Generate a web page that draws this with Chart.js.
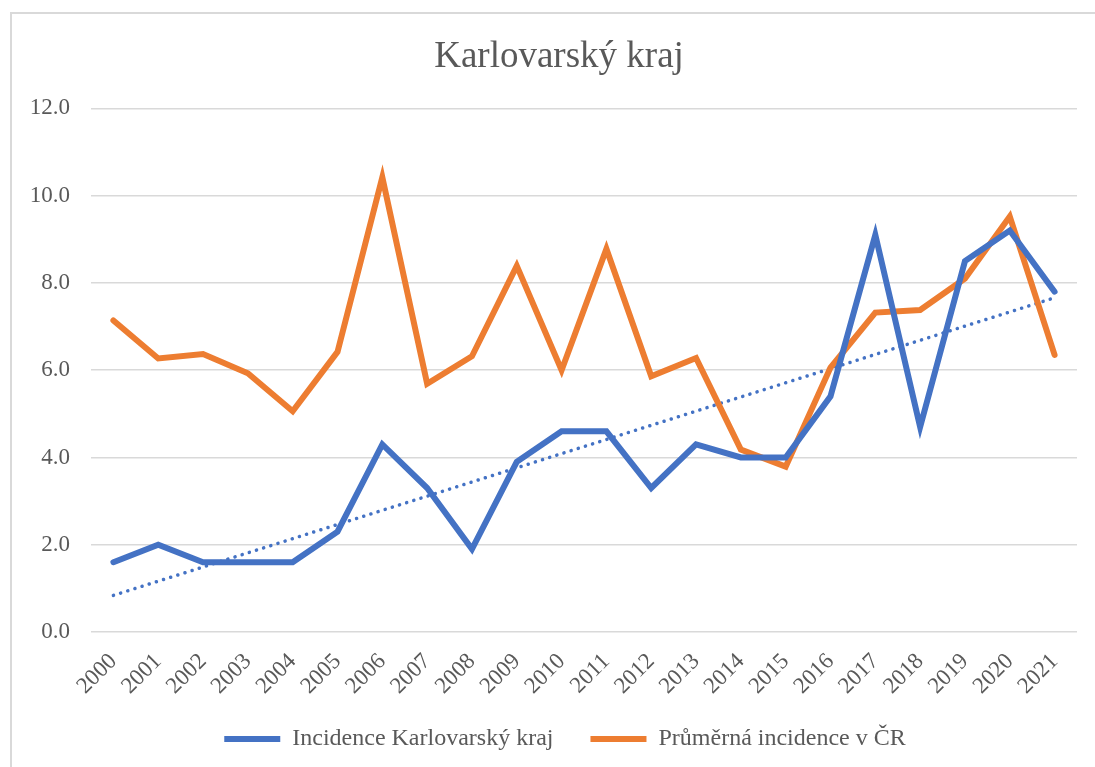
<!DOCTYPE html>
<html>
<head>
<meta charset="utf-8">
<script src="https://cdn.jsdelivr.net/npm/chart.js@4/dist/chart.umd.min.js"></script>
<style>
  html, body { margin: 0; padding: 0; background: #fff; }
  #wrap { width: 1095px; height: 767px; }
</style>
</head>
<body>
<div id="wrap"><canvas id="chartKraj" width="1095" height="767"></canvas></div>
<script>
const roky = ['2000', '2001', '2002', '2003', '2004', '2005', '2006', '2007', '2008', '2009', '2010',
    '2011', '2012', '2013', '2014', '2015', '2016', '2017', '2018', '2019', '2020', '2021'];
const incidenceKraj = [1.6, 2.0, 1.6, 1.6, 1.6, 2.3, 4.3, 3.3, 1.9, 3.9, 4.6,
    4.6, 3.3, 4.3, 4.0, 4.0, 5.4, 9.1, 4.7, 8.5, 9.2, 7.8];
const incidenceCR = [7.14, 6.27, 6.37, 5.93, 5.06, 6.42, 10.42, 5.69, 6.32, 8.39, 6.0,
    8.78, 5.86, 6.28, 4.18, 3.79, 6.06, 7.32, 7.38, 8.1, 9.52, 6.35];
// lineární trend (začátek 2000, konec 2021)
const trendZacatek = 0.84;
const trendKonec = 7.66;
const yTicks = [0, 2, 4, 6, 8, 10, 12];

const trend = roky.map((r, i) => i === 0 ? trendZacatek : (i === roky.length - 1 ? trendKonec : null));

const seda = '#595959';
const mrizka = '#d9d9d9';
const pismo = '"Liberation Serif", "Times New Roman", serif';

const ramecek = {
    id: 'ramecek',
    beforeDraw(chart) {
        const ctx = chart.ctx;
        ctx.save();
        ctx.fillStyle = '#fff';
        ctx.fillRect(0, 0, chart.width, chart.height);
        ctx.strokeStyle = mrizka;
        ctx.lineWidth = 2;
        ctx.beginPath();
        ctx.moveTo(11, chart.height);
        ctx.lineTo(11, 13);
        ctx.lineTo(chart.width, 13);
        ctx.stroke();
        ctx.restore();
    }
};

// legenda ma velke rozestupy mezi polozkami, po rozvrzeni ji trochu posuneme
const posunBloku = {
    id: 'posunBloku',
    afterLayout(chart) {
        const lg = chart.legend;
        lg.top -= 8;
        lg.bottom -= 8;
        lg.left += 12;
        lg.right += 12;
        const tb = chart.titleBlock;
        tb.left += 6;
        tb.right += 6;
    }
};

const canvas = document.getElementById('chartKraj');
const context = canvas.getContext('2d');

const chartKraj = new Chart(context, {
    type: 'line',
    data: {
        labels: roky,
        datasets: [
            {
                label: 'Incidence Karlovarský kraj',
                data: incidenceKraj,
                borderColor: '#4472C4',
                backgroundColor: '#4472C4',
                borderWidth: 6,
                borderCapStyle: 'round',
                pointRadius: 0,
                tension: 0
            },
            {
                label: 'Průměrná incidence v ČR',
                data: incidenceCR,
                borderColor: '#ED7D31',
                backgroundColor: '#ED7D31',
                borderWidth: 6,
                borderCapStyle: 'round',
                pointRadius: 0,
                tension: 0
            },
            {
                label: 'trend',
                data: trend,
                borderColor: '#4472C4',
                borderWidth: 3.5,
                borderDash: [0.1, 7.4],
                borderCapStyle: 'round',
                pointRadius: 0,
                spanGaps: true
            }
        ]
    },
    options: {
        responsive: false,
        animation: false,
        layout: {
            padding: { left: 29, right: 18, top: 0, bottom: 0 }
        },
        plugins: {
            tooltip: { enabled: false },
            title: {
                display: true,
                text: 'Karlovarský kraj',
                color: seda,
                font: { family: pismo, size: 37, weight: 'normal', lineHeight: 1.2 },
                padding: { top: 35, bottom: 29 }
            },
            legend: {
                position: 'bottom',
                maxHeight: 69,
                labels: {
                    color: seda,
                    font: { family: pismo, size: 24, lineHeight: 1 },
                    usePointStyle: true,
                    pointStyle: 'line',
                    pointStyleWidth: 56,
                    padding: 37,
                    filter: item => item.text !== 'trend'
                }
            }
        },
        scales: {
            x: {
                offset: true,
                grid: { display: false },
                border: { display: false },
                ticks: {
                    color: seda,
                    font: { family: pismo, size: 23 },
                    minRotation: 45,
                    maxRotation: 45,
                    autoSkip: false,
                    padding: 8
                },
                afterFit: scale => { scale.height = 66; }
            },
            y: {
                min: 0,
                max: 12,
                afterBuildTicks: scale => { scale.ticks = yTicks.map(v => ({ value: v })); },
                grid: { color: mrizka, lineWidth: 1.5, drawTicks: false },
                border: { display: false },
                ticks: {
                    color: seda,
                    font: { family: pismo, size: 23 },
                    padding: 21,
                    callback: v => Number(v).toFixed(1)
                },
                afterFit: scale => { scale.width = 62; }
            }
        }
    },
    plugins: [ramecek, posunBloku]
});
</script>
</body>
</html>
